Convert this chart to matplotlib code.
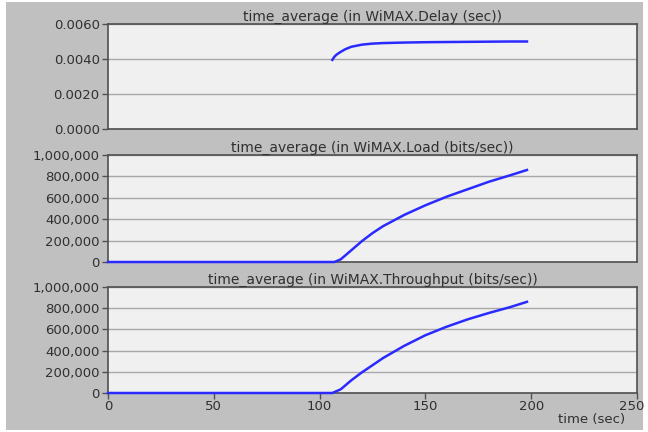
import matplotlib.pyplot as plt
import matplotlib.transforms as mtransforms
from matplotlib.patches import Rectangle
from matplotlib.ticker import FuncFormatter

# data
delay_t = [106, 107, 108, 110, 112, 115, 120, 125, 130, 140, 150, 160, 170, 180, 190, 198]
delay = [0.00395, 0.00413, 0.00425, 0.00441, 0.00455, 0.00470, 0.00482, 0.00488,
         0.00491, 0.00494, 0.00496, 0.00497, 0.00498, 0.00499, 0.00500, 0.00500]

load_t = [0, 50, 100, 107, 110, 115, 120, 125, 130, 140, 150, 160, 170, 180, 190, 198]
load = [0, 0, 0, 0, 25e3, 110e3, 195e3, 270e3, 335e3, 440e3, 530e3, 610e3,
        680e3, 750e3, 810e3, 860e3]

thr_t = [0, 50, 100, 106, 110, 115, 120, 125, 130, 140, 150, 160, 170, 180, 190, 198]
throughput = [0, 0, 0, 0, 35e3, 120e3, 195e3, 262e3, 330e3, 445e3, 545e3, 625e3,
              695e3, 755e3, 810e3, 860e3]

titles = ["time_average (in WiMAX.Delay (sec))",
          "time_average (in WiMAX.Load (bits/sec))",
          "time_average (in WiMAX.Throughput (bits/sec))"]
x_ticks = [0, 50, 100, 150, 200, 250]
delay_ticks = [0.0, 0.002, 0.004, 0.006]
bits_ticks = [0, 200000, 400000, 600000, 800000, 1000000]

plt.rcParams['font.family'] = 'DejaVu Sans'
txt = '#303030'
fs = 9.5

fig = plt.figure(figsize=(6.48, 4.32), dpi=100)
fig.patch.set_facecolor('white')
fig.patches.append(Rectangle((6 / 648, 2 / 432), 637 / 648, 428 / 432,
                             transform=fig.transFigure, facecolor='#c0c0c0',
                             edgecolor='none', zorder=-1))

left, width = 108 / 648, 529 / 648
rects = [(left, 1 - 129 / 432, width, 105 / 432),
         (left, 1 - 262 / 432, width, 107 / 432),
         (left, 1 - 393 / 432, width, 106 / 432)]

series = [(delay_t, delay), (load_t, load), (thr_t, throughput)]
for i, r in enumerate(rects):
    ax = fig.add_axes(r)
    ax.set_facecolor('#f0f0f0')
    t, v = series[i]
    ax.plot(t, v, color='#2a2aff', lw=1.8, zorder=3, clip_on=False)
    ax.set_xlim(0, 250)
    if i == 0:
        ax.set_ylim(0, 0.006)
        ax.set_yticks(delay_ticks)
        ax.yaxis.set_major_formatter(FuncFormatter(lambda y, p: f"{y:.4f}"))
    else:
        ax.set_ylim(0, 1000000)
        ax.set_yticks(bits_ticks)
        ax.yaxis.set_major_formatter(FuncFormatter(lambda y, p: f"{int(y):,}"))
    ax.grid(axis='y', color='#a8a8a8', lw=1)
    ax.set_axisbelow(True)
    for s in ax.spines.values():
        s.set_color('#505050')
        s.set_linewidth(1.2)
    ax.tick_params(axis='y', direction='out', length=4, width=1, colors='#505050',
                   labelcolor=txt, labelsize=fs, pad=2)
    if i < 2:
        ax.tick_params(axis='x', bottom=False, labelbottom=False)
    else:
        ax.set_xticks(x_ticks)
        ax.tick_params(axis='x', direction='out', length=4, width=1, colors='#505050',
                       labelcolor=txt, labelsize=fs, pad=1)
        # keep the last label inside the canvas
        last = ax.get_xticklabels()[-1]
        last.set_transform(last.get_transform() +
                           mtransforms.ScaledTranslation(-5 / 100, 0, fig.dpi_scale_trans))
    ax.set_title(titles[i], fontsize=10, color=txt, pad=2)

fig.text(625 / 648, 1 - 420 / 432, "time (sec)", fontsize=fs, color=txt,
         ha='right', va='center')

fig.savefig("out.png", dpi=100)
